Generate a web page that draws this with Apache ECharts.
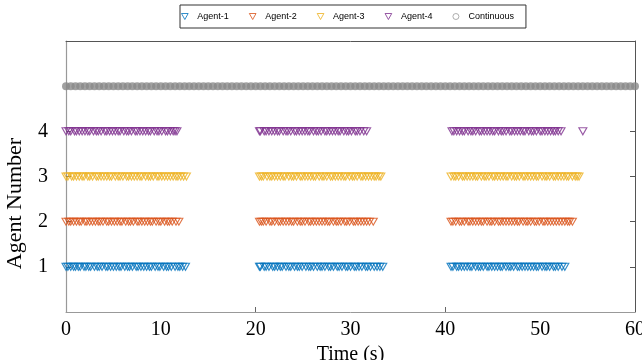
<!DOCTYPE html>
<html>
<head>
<meta charset="utf-8">
<script src="https://cdn.jsdelivr.net/npm/echarts@6/dist/echarts.min.js"></script>
<style>html,body{margin:0;padding:0;background:#fff}#c{width:642px;height:360px}</style>
</head>
<body>
<div id="c"></div>
<script>
// ---- data ----
var seriesNames = ['Agent-1', 'Agent-2', 'Agent-3', 'Agent-4', 'Continuous'];
var agentLevels = [1, 2, 3, 4];
var continuousLevel = 5;
var xTickLabels = [0, 10, 20, 30, 40, 50, 60];
var yTickLabels = [1, 2, 3, 4];

var agent1Times = [
  0,0.2,0.5,0.8,1.0,1.3,1.5,1.9,2.1,2.4,2.6,3.0,3.3,3.5,3.8,4.2,4.4,4.7,5.0,5.3,5.6,5.8,6.2,6.5,6.7,7.0,7.4,7.6,7.9,8.2,8.5,8.8,9.0,9.4,9.7,9.9,10.3,10.6,10.8,11.1,11.5,11.8,12.0,12.3,12.6,
  20.4,20.5,20.9,21.1,21.4,21.8,22.0,22.3,22.6,22.8,23.2,23.5,23.7,24.1,24.4,24.6,24.9,25.3,25.6,25.8,26.1,26.5,26.8,27.0,27.3,27.7,27.9,28.2,28.6,28.8,29.1,29.5,29.7,30.0,30.4,30.6,30.9,31.2,31.6,31.8,32.1,32.5,32.8,33.1,33.4,
  40.6,40.8,41.2,41.4,41.7,42.0,42.3,42.6,42.8,43.2,43.5,43.7,44.0,44.4,44.6,44.9,45.2,45.5,45.8,46.0,46.4,46.7,46.9,47.2,47.6,47.8,48.1,48.4,48.7,49.0,49.3,49.6,49.8,50.2,50.5,50.7,51.0,51.4,51.6,51.9,52.3,52.6
];
var agent2Times = [
  0,0.3,0.5,0.8,1.1,1.4,1.6,2.0,2.2,2.5,2.8,3.1,3.4,3.6,3.9,4.3,4.5,4.8,5.1,5.4,5.7,5.9,6.3,6.6,6.8,7.1,7.5,7.7,8.0,8.3,8.6,8.9,9.1,9.5,9.8,10.0,10.4,10.7,10.9,11.2,11.6,11.9,
  20.4,20.6,20.8,21.1,21.5,21.7,22.0,22.4,22.6,22.9,23.2,23.5,23.8,24.0,24.4,24.7,24.9,25.2,25.6,25.8,26.1,26.4,26.7,27.0,27.3,27.6,27.8,28.2,28.5,28.7,29.0,29.4,29.6,29.9,30.3,30.5,30.8,31.1,31.4,31.7,32.0,32.4,
  40.6,40.8,41.1,41.5,41.7,42.0,42.4,42.6,42.9,43.2,43.5,43.8,44.0,44.4,44.7,44.9,45.2,45.6,45.8,46.1,46.4,46.7,47.0,47.3,47.6,47.8,48.2,48.5,48.7,49.0,49.4,49.6,49.9,50.3,50.5,50.8,51.1,51.4,51.7,52.0,52.3,52.6,52.9,53.1,53.4
];
var agent3Times = [
  0,0.2,0.6,0.8,1.1,1.4,1.7,1.9,2.3,2.5,2.8,3.2,3.4,3.7,4.0,4.3,4.6,4.8,5.2,5.5,5.7,6.0,6.4,6.6,6.9,7.2,7.5,7.8,8.0,8.4,8.7,8.9,9.2,9.6,9.8,10.1,10.4,10.7,11.0,11.3,11.6,11.8,12.1,12.4,12.7,
  20.4,20.6,20.8,21.2,21.5,21.7,22.0,22.3,22.6,22.9,23.1,23.5,23.8,24.0,24.3,24.7,24.9,25.2,25.5,25.8,26.1,26.3,26.7,27.0,27.2,27.5,27.9,28.1,28.4,28.7,29.0,29.3,29.5,29.9,30.2,30.4,30.7,31.1,31.3,31.6,31.9,32.2,32.5,32.7,33.0,33.2,
  40.6,40.9,41.1,41.4,41.8,42.0,42.3,42.6,42.9,43.2,43.4,43.8,44.1,44.3,44.6,45.0,45.2,45.5,45.8,46.1,46.4,46.6,47.0,47.3,47.5,47.8,48.2,48.4,48.7,49.0,49.3,49.6,49.8,50.2,50.5,50.7,51.0,51.4,51.6,51.9,52.2,52.5,52.8,53.0,53.4,53.7,53.9,54.1
];
var agent4Times = [
  0,0.3,0.5,0.9,1.1,1.4,1.7,2.0,2.3,2.5,2.9,3.2,3.4,3.7,4.1,4.3,4.6,4.9,5.2,5.5,5.7,6.1,6.4,6.6,6.9,7.3,7.5,7.8,8.1,8.4,8.7,8.9,9.3,9.6,9.8,10.1,10.5,10.7,11.0,11.3,11.5,11.7,
  20.4,20.5,20.9,21.1,21.4,21.7,22.0,22.3,22.5,22.9,23.2,23.4,23.7,24.1,24.3,24.6,24.9,25.2,25.5,25.7,26.1,26.4,26.6,26.9,27.3,27.5,27.8,28.1,28.4,28.7,28.9,29.3,29.6,29.8,30.1,30.5,30.7,31.0,31.4,31.7,
  40.7,40.9,41.2,41.5,41.8,42.0,42.4,42.7,42.9,43.2,43.6,43.8,44.1,44.4,44.7,45.0,45.2,45.6,45.9,46.1,46.4,46.8,47.0,47.3,47.6,47.9,48.2,48.4,48.8,49.1,49.3,49.6,50.0,50.2,50.5,50.8,51.1,51.4,51.6,51.9,52.2,
  54.5
];
var continuousTimes = [
  0,0.5,1,1.5,2,2.5,3,3.5,4,4.5,5,5.5,6,6.5,7,7.5,8,8.5,9,9.5,10,10.5,11,11.5,12,12.5,13,13.5,14,14.5,
  15,15.5,16,16.5,17,17.5,18,18.5,19,19.5,20,20.5,21,21.5,22,22.5,23,23.5,24,24.5,25,25.5,26,26.5,27,27.5,28,28.5,29,29.5,
  30,30.5,31,31.5,32,32.5,33,33.5,34,34.5,35,35.5,36,36.5,37,37.5,38,38.5,39,39.5,40,40.5,41,41.5,42,42.5,43,43.5,44,44.5,
  45,45.5,46,46.5,47,47.5,48,48.5,49,49.5,50,50.5,51,51.5,52,52.5,53,53.5,54,54.5,55,55.5,56,56.5,57,57.5,58,58.5,59,59.5,60
];

// ---- chart ----
var colors = ['#0072BD', '#D95319', '#EDB120', '#7E2F8E', '#8a8a8a'];
var agentTimes = [agent1Times, agent2Times, agent3Times, agent4Times];
var serif = 'Liberation Serif';
var downTri = 'path://M0,0 L10,0 L5,9 Z';

var series = agentTimes.map(function (times, i) {
  return {
    name: seriesNames[i],
    type: 'scatter',
    data: times.map(function (t) { return [t, agentLevels[i]]; }),
    symbol: downTri,
    symbolSize: [8, 7],
    clip: false,
    itemStyle: { color: 'rgba(0,0,0,0)', borderColor: colors[i], borderWidth: 1.1 },
    emphasis: { disabled: true },
    silent: true
  };
});
series.push({
  name: seriesNames[4],
  type: 'scatter',
  data: continuousTimes.map(function (t) { return [t, continuousLevel]; }),
  symbol: 'circle',
  symbolSize: 8,
  clip: false,
  itemStyle: { color: colors[4], borderWidth: 0 },
  emphasis: { disabled: true },
  silent: true
});

var legendItem = function (i) {
  return { name: seriesNames[i], icon: downTri,
    itemStyle: { color: 'rgba(0,0,0,0)', borderColor: colors[i], borderWidth: 1 } };
};

var chart = echarts.init(document.getElementById('c'), null, { renderer: 'canvas' });
chart.setOption({
  animation: false,
  backgroundColor: '#fff',
  grid: { left: 66, right: 7, top: 41, bottom: 48, containLabel: false, outerBoundsMode: 'none' },
  legend: {
    left: 180, top: 5,
    padding: [7, 12, 7, 1],
    borderColor: '#333', borderWidth: 1,
    itemWidth: 7, itemHeight: 6, itemGap: 20,
    textStyle: { fontFamily: 'Liberation Sans', fontSize: 9, color: '#000', padding: [0, 0, 0, 4] },
    data: [
      legendItem(0), legendItem(1), legendItem(2), legendItem(3),
      { name: 'Continuous', icon: 'circle', itemStyle: { color: 'rgba(0,0,0,0)', borderColor: '#999', borderWidth: 1 } }
    ]
  },
  xAxis: [{
    type: 'value', min: 0, max: 60, interval: 10, position: 'bottom',
    name: 'Time (s)', nameLocation: 'middle', nameGap: 27,
    nameTextStyle: { fontFamily: serif, fontSize: 20, color: '#000' },
    axisLine: { show: true, lineStyle: { color: '#999', width: 1 } },
    axisTick: { show: true, inside: true, length: 5, customValues: [20, 40], lineStyle: { color: '#666' } },
    axisLabel: { fontFamily: serif, fontSize: 20, color: '#000', margin: 8, customValues: xTickLabels },
    splitLine: { show: false }
  }, {
    type: 'value', min: 0, max: 60, position: 'top',
    axisLine: { show: true, onZero: false, lineStyle: { color: '#555', width: 1 } },
    axisTick: { show: false }, axisLabel: { show: false }, splitLine: { show: false }
  }],
  yAxis: [{
    type: 'value', min: 0, max: 6, interval: 1, position: 'left',
    name: 'Agent Number', nameLocation: 'middle', nameGap: 40, nameRotate: 90,
    nameTextStyle: { fontFamily: serif, fontSize: 22, color: '#000', padding: [0, 54, 0, 0] },
    axisLine: { show: true, lineStyle: { color: '#999', width: 1.2 } },
    axisTick: { show: true, inside: true, length: 5, customValues: yTickLabels, lineStyle: { color: '#666' } },
    axisLabel: { fontFamily: serif, fontSize: 20, color: '#000', margin: 18, customValues: yTickLabels },
    splitLine: { show: false }
  }, {
    type: 'value', min: 0, max: 6, interval: 1, position: 'right',
    axisLine: { show: true, onZero: false, lineStyle: { color: '#555', width: 1 } },
    axisTick: { show: true, inside: true, length: 5, customValues: yTickLabels, lineStyle: { color: '#555' } },
    axisLabel: { show: false }, splitLine: { show: false }
  }],
  series: series
});
</script>
</body>
</html>
